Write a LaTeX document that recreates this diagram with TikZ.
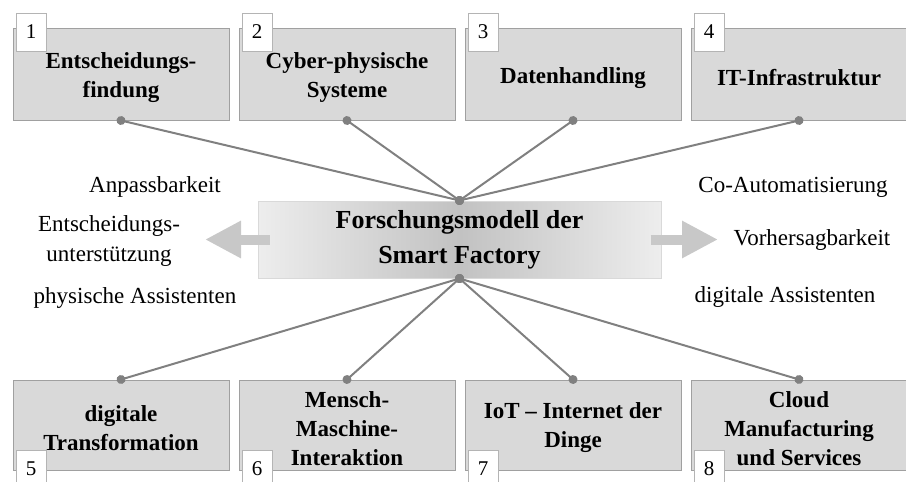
\documentclass[tikz,border=0pt]{standalone}
\usepackage{fontspec}
\setmainfont{Liberation Serif}
\usetikzlibrary{arrows.meta}
\usetikzlibrary{decorations.markings}
\definecolor{boxgray}{HTML}{D9D9D9}
\definecolor{rimgray}{HTML}{A0A0A0}
\definecolor{numrim}{HTML}{B4B4B4}
\definecolor{linkgray}{HTML}{808080}
\definecolor{arrowgray}{HTML}{C8C8C8}
\tikzset{topic/.style = {draw=rimgray, fill=boxgray, line width=1pt,
                         minimum width=216pt, minimum height=92pt},
         topictext/.style = {align=center, font=\fontsize{23}{29}\selectfont\bfseries},
         numbox/.style = {draw=numrim, fill=white, line width=1pt, inner sep=0pt,
                          minimum width=30pt, minimum height=38pt,
                          font=\fontsize{21}{24}\selectfont},
         aspect/.style = {align=center, font=\fontsize{23}{30}\selectfont},
         dotlink/.style = {draw=linkgray, line width=2pt,
                           decoration={markings,
                                       mark=at position 0 with {\fill[linkgray] circle (4.5pt);},
                                       mark=at position 1 with {\fill[linkgray] circle (4.5pt);}},
                           postaction={decorate}},
         blockarrow/.style = {draw=arrowgray, line width=10pt,
                              -{Triangle[length=36pt, width=35pt]}}}

\begin{document}
\begin{tikzpicture}[x=1pt, y=-1pt]
      \useasboundingbox (0, 0) rectangle (906, 482);

      \node [topic] (t1) at (121, 74) {};
      \node [topic] (t2) at (347, 74) {};
      \node [topic] (t3) at (573, 74) {};
      \node [topic] (t4) at (799, 74) {};
      \node [topictext] (t1text) at (121, 78) {Entscheidungs-\\findung};
      \node [topictext] (t2text) at (347, 78) {Cyber-physische\\Systeme};
      \node [topictext] (t3text) at (573, 78) {Datenhandling};
      \node [topictext] (t4text) at (799, 78) {IT-Infrastruktur};

      \node [topic, minimum height=90pt] (b1) at (121, 425) {};
      \node [topic, minimum height=90pt] (b2) at (347, 425) {};
      \node [topic, minimum height=90pt] (b3) at (573, 425) {};
      \node [topic, minimum height=90pt] (b4) at (799, 425) {};
      \node [topictext] (b1text) at (121, 428) {digitale\\Transformation};
      \node [topictext] (b2text) at (347, 429) {Mensch-\\Maschine-\\Interaktion};
      \node [topictext] (b3text) at (573, 428) {IoT -- Internet der\\Dinge};
      \node [topictext] (b4text) at (799, 429) {Cloud\\Manufacturing\\und Services};

      \node [draw=boxgray, line width=1pt, minimum width=403pt, minimum height=77pt,
             left color=black!7, right color=black!7, middle color=black!24,
             align=center, font=\fontsize{26}{35}\selectfont\bfseries]
            (model) at (459.5, 239.5) {Forschungsmodell der\\Smart Factory};

      \draw [dotlink] (t1.south) -- (model.north);
      \draw [dotlink] (t2.south) -- (model.north);
      \draw [dotlink] (t3.south) -- (model.north);
      \draw [dotlink] (t4.south) -- (model.north);

      \draw [dotlink] (model.south) -- (b1.north);
      \draw [dotlink] (model.south) -- (b2.north);
      \draw [dotlink] (model.south) -- (b3.north);
      \draw [dotlink] (model.south) -- (b4.north);

      \node [numbox, anchor=north west] (n1) at ([shift={(3pt,15pt)}]t1.north west) {1};
      \node [numbox, anchor=north west] (n2) at ([shift={(3pt,15pt)}]t2.north west) {2};
      \node [numbox, anchor=north west] (n3) at ([shift={(3pt,15pt)}]t3.north west) {3};
      \node [numbox, anchor=north west] (n4) at ([shift={(3pt,15pt)}]t4.north west) {4};
      \node [numbox, anchor=north west] (n5) at ([shift={(3pt,21pt)}]b1.south west) {5};
      \node [numbox, anchor=north west] (n6) at ([shift={(3pt,21pt)}]b2.south west) {6};
      \node [numbox, anchor=north west] (n7) at ([shift={(3pt,21pt)}]b3.south west) {7};
      \node [numbox, anchor=north west] (n8) at ([shift={(3pt,21pt)}]b4.south west) {8};

      % arrows out of the model
      \coordinate (lefttip) at (205, 239.5);
      \coordinate (righttip) at (718, 239.5);
      \draw [blockarrow] ([xshift=12pt]model.west) -- (lefttip);
      \draw [blockarrow] ([xshift=-11pt]model.east) -- (righttip);

      \node [aspect] (adapt) at (155, 187) {Anpassbarkeit};
      \node [aspect] (decide) at (109, 241) {Entscheidungs-\\unterstützung};
      \node [aspect] (physical) at (135, 298) {physische Assistenten};

      \node [aspect] (coauto) at (793, 187) {Co-Automatisierung};
      \node [aspect] (predict) at (812, 240) {Vorhersagbarkeit};
      \node [aspect] (digital) at (785, 297) {digitale Assistenten};
\end{tikzpicture}
\end{document}
